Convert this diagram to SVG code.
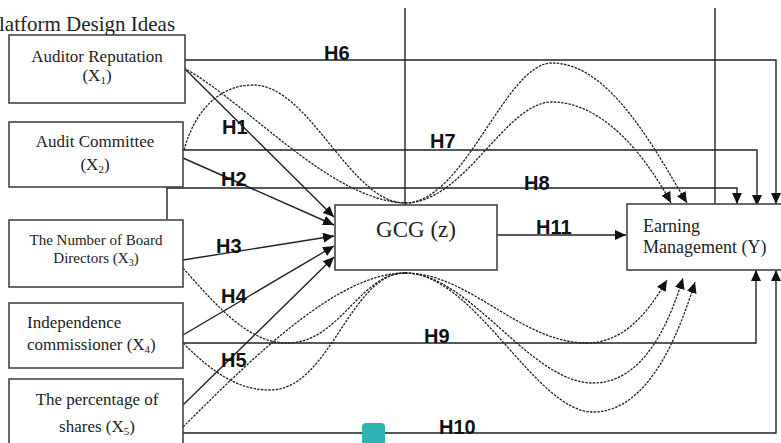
<svg xmlns="http://www.w3.org/2000/svg" width="781" height="443" viewBox="0 0 781 443">
<defs>
<marker id="ah" markerUnits="userSpaceOnUse" markerWidth="12" markerHeight="10" refX="11" refY="5" orient="auto">
<path d="M0,0 L11,5 L0,10 z" fill="#111"/>
</marker>
<style>
.box{fill:#fff;stroke:#444;stroke-width:1.6}
.bt{font-family:"Liberation Serif","Times New Roman",serif;fill:#222}
.ln{fill:none;stroke:#222;stroke-width:1.4}
.ar{fill:none;stroke:#222;stroke-width:1.4;marker-end:url(#ah)}
.ds{fill:none;stroke:#222;stroke-width:1.3;stroke-dasharray:2.5,1.2;marker-end:url(#ah)}
.dn{fill:none;stroke:#222;stroke-width:1.3;stroke-dasharray:2.5,1.2}
.hl{font-family:"Liberation Sans",Arial,sans-serif;font-weight:bold;font-size:20px;fill:#111}
</style>
</defs>
<rect width="781" height="443" fill="#fff"/>
<text class="bt" x="-1" y="31" font-size="21">latform Design Ideas</text>

<g id="connectors">
<line class="ln" x1="405" y1="8" x2="405" y2="205"/>
<line class="ln" x1="715" y1="8" x2="715" y2="204"/>
<path class="ar" d="M185,60 H776 V204"/>
<path class="ar" d="M183,150 H757 V206"/>
<path class="ar" d="M167,219 V188 H737 V204"/>
<path class="ar" d="M183,343 H756 V270"/>
<path class="ar" d="M183,433 H776 V270"/>
<path class="ar" d="M497,235 H626"/>
<path class="ar" d="M184,68 L334,217"/>
<path class="ar" d="M183,158 L334,225"/>
<path class="ar" d="M183,260 L334,236"/>
<path class="ar" d="M183,335 L334,246"/>
<path class="ar" d="M183,405 L334,257"/>
<path class="dn" d="M184,68 C250,105 330,200 405,203"/>
<path class="dn" d="M184,150 C195,110 220,85 253,85 C310,85 350,203 405,203"/>
<path class="ds" d="M405,203 C465,203 505,63 552,63 C610,63 655,150 687,203"/>
<path class="ds" d="M405,203 C465,203 505,102 552,102 C605,102 648,160 671,203"/>
<path class="dn" d="M183,268 C220,310 250,343 287,343 C340,343 360,273 405,273"/>
<path class="dn" d="M183,343 C215,375 240,390 270,390 C330,390 350,273 405,273"/>
<path class="dn" d="M183,427 C260,350 340,273 405,273"/>
<path class="ds" d="M405,273 C470,273 520,343 587,343 C630,343 655,300 667,280"/>
<path class="ds" d="M405,273 C470,273 530,383 593,383 C645,383 670,320 683,278"/>
<path class="ds" d="M405,273 C475,273 535,412 593,412 C650,412 680,330 695,282"/>
</g>

<g id="labels">
<text class="hl" x="324" y="60">H6</text>
<text class="hl" x="222" y="134">H1</text>
<text class="hl" x="430" y="148">H7</text>
<text class="hl" x="221" y="186">H2</text>
<text class="hl" x="524" y="190">H8</text>
<text class="hl" x="536" y="234">H11</text>
<text class="hl" x="216" y="253">H3</text>
<text class="hl" x="221" y="303">H4</text>
<text class="hl" x="424" y="343">H9</text>
<text class="hl" x="221" y="367">H5</text>
<text class="hl" x="439" y="434">H10</text>
</g>

<g id="x1">
<rect class="box" x="9" y="35" width="176" height="68"/>
<text class="bt" font-size="17" text-anchor="middle" x="97" y="62">Auditor Reputation</text>
<text class="bt" font-size="17" text-anchor="middle" x="97" y="81">(X<tspan font-size="11" dy="3">1</tspan><tspan dy="-3">)</tspan></text>
</g>
<g id="x2">
<rect class="box" x="9" y="122" width="174" height="65"/>
<text class="bt" font-size="17" text-anchor="middle" x="95" y="147">Audit Committee</text>
<text class="bt" font-size="17" text-anchor="middle" x="95" y="170">(X<tspan font-size="11" dy="3">2</tspan><tspan dy="-3">)</tspan></text>
</g>
<g id="x3">
<rect class="box" x="9" y="220" width="174" height="67"/>
<text class="bt" font-size="15" text-anchor="middle" x="96" y="245">The Number of Board</text>
<text class="bt" font-size="15" text-anchor="middle" x="96" y="263">Directors (X<tspan font-size="10" dy="3">3</tspan><tspan dy="-3">)</tspan></text>
</g>
<g id="x4">
<rect class="box" x="9" y="303" width="174" height="65"/>
<text class="bt" font-size="17" x="27" y="328">Independence</text>
<text class="bt" font-size="17" x="27" y="350">commissioner (X<tspan font-size="11" dy="3">4</tspan><tspan dy="-3">)</tspan></text>
</g>
<g id="x5">
<rect class="box" x="9" y="379" width="174" height="80"/>
<text class="bt" font-size="17" text-anchor="middle" x="97" y="405">The percentage of</text>
<text class="bt" font-size="17" text-anchor="middle" x="97" y="432">shares (X<tspan font-size="11" dy="3">5</tspan><tspan dy="-3">)</tspan></text>
</g>
<g id="gcg">
<rect class="box" x="335" y="205" width="162" height="65"/>
<text class="bt" font-size="23" text-anchor="middle" x="416" y="237">GCG (z)</text>
</g>
<g id="em">
<rect class="box" x="627" y="204" width="170" height="66"/>
<text class="bt" font-size="18" x="643" y="232">Earning</text>
<text class="bt" font-size="18" x="643" y="253">Management (Y)</text>
</g>
<rect x="362" y="423" width="23" height="28" rx="4" fill="#2fb6b4"/>
</svg>
